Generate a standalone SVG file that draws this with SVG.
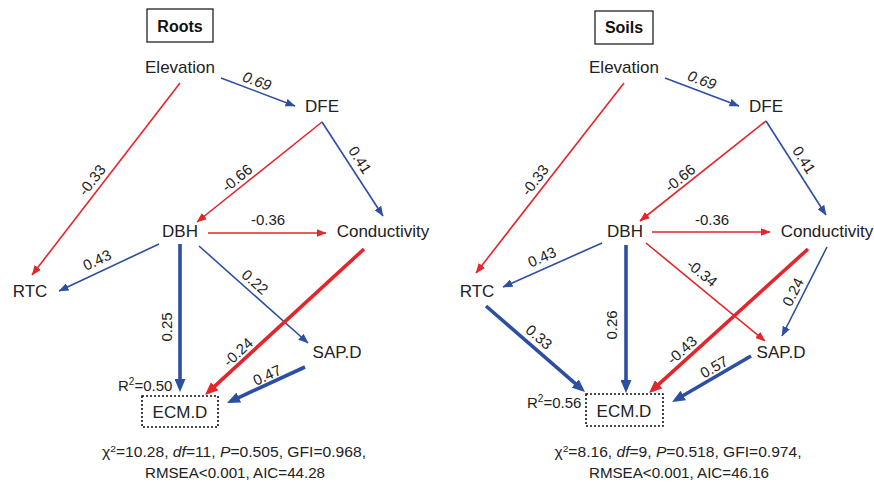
<svg xmlns="http://www.w3.org/2000/svg" width="874" height="484" viewBox="0 0 874 484">
<style>
.n{font-family:"Liberation Sans",Arial,sans-serif;font-size:17px;fill:#222;text-anchor:middle}
.l{font-family:"Liberation Sans",Arial,sans-serif;font-size:15px;fill:#222;text-anchor:middle}
.q{font-family:"Liberation Sans",Arial,sans-serif;font-size:15px;fill:#222}
.t{font-family:"Liberation Sans",Arial,sans-serif;font-size:16px;font-weight:bold;fill:#111;text-anchor:middle}
.s{font-family:"Liberation Sans",Arial,sans-serif;font-size:14.5px;fill:#222;text-anchor:middle}
.r{stroke:#e3262b;fill:none}
.b{stroke:#2c4ea3;fill:none}
.thin{stroke-width:1.6}
.thick{stroke-width:3.6}
.box{fill:#fff;stroke:#222;stroke-width:1.3}
.dot{fill:none;stroke:#111;stroke-width:1.6;stroke-dasharray:2 2}
</style>
<defs>
<marker id="ar" markerUnits="userSpaceOnUse" markerWidth="10" markerHeight="8" refX="9.5" refY="4" orient="auto"><path d="M0,0 L10,4 L0,8 z" fill="#e3262b"/></marker>
<marker id="ab" markerUnits="userSpaceOnUse" markerWidth="10" markerHeight="8" refX="9.5" refY="4" orient="auto"><path d="M0,0 L10,4 L0,8 z" fill="#2c4ea3"/></marker>
<marker id="aR" markerUnits="userSpaceOnUse" markerWidth="13" markerHeight="11" refX="9" refY="5.5" orient="auto"><path d="M0,0 L13,5.5 L0,11 z" fill="#e3262b"/></marker>
<marker id="aB" markerUnits="userSpaceOnUse" markerWidth="13" markerHeight="11" refX="9" refY="5.5" orient="auto"><path d="M0,0 L13,5.5 L0,11 z" fill="#2c4ea3"/></marker>
</defs>
<rect width="874" height="484" fill="#fff"/>

<!-- LEFT PANEL: Roots -->
<g id="roots-title"><rect class="box" x="147" y="9" width="66" height="33"/><text class="t" x="180" y="31.5">Roots</text></g>
<g id="connectors-roots">
<line class="b thin" x1="221" y1="78" x2="295" y2="106" marker-end="url(#ab)"/>
<line class="r thin" x1="322" y1="122" x2="197" y2="222" marker-end="url(#ar)"/>
<line class="b thin" x1="322" y1="122" x2="383" y2="216" marker-end="url(#ab)"/>
<line class="r thin" x1="180" y1="83" x2="32" y2="275" marker-end="url(#ar)"/>
<line class="r thin" x1="208" y1="233" x2="326" y2="233" marker-end="url(#ar)"/>
<line class="b thin" x1="159" y1="244" x2="59" y2="291" marker-end="url(#ab)"/>
<line class="b thin" x1="199" y1="246" x2="308" y2="343" marker-end="url(#ab)"/>
<line class="b thick" x1="180" y1="244" x2="180" y2="388" marker-end="url(#aB)"/>
<line class="r thick" x1="364" y1="249" x2="208" y2="392.3" marker-end="url(#aR)"/>
<line class="b thick" x1="305" y1="367" x2="230.6" y2="401.3" marker-end="url(#aB)"/>
<text class="l" transform="translate(257,81) rotate(20.7)" dy="0.35em" font-style="italic">0.69</text>
<text class="l" transform="translate(237,178) rotate(-38.7)" dy="0.35em">-0.66</text>
<text class="l" transform="translate(360,160) rotate(57)" dy="0.35em">0.41</text>
<text class="l" transform="translate(92,180) rotate(-52.4)" dy="0.35em">-0.33</text>
<text class="l" x="268" y="225">-0.36</text>
<text class="l" transform="translate(97,260) rotate(-25)" dy="0.35em">0.43</text>
<text class="l" transform="translate(167,327) rotate(-90)" dy="0.35em">0.25</text>
<text class="l" transform="translate(255,282) rotate(41.7)" dy="0.35em">0.22</text>
<text class="l" transform="translate(238,352) rotate(-42.6)" dy="0.35em">-0.24</text>
<text class="l" transform="translate(267,375) rotate(-24.8)" dy="0.35em">0.47</text>
</g>
<g id="roots-elevation"><text class="n" x="180" y="73">Elevation</text></g>
<g id="roots-dfe"><text class="n" x="322" y="112">DFE</text></g>
<g id="roots-dbh"><text class="n" x="180" y="237">DBH</text></g>
<g id="roots-conductivity"><text class="n" x="383" y="237">Conductivity</text></g>
<g id="roots-rtc"><text class="n" x="30" y="297">RTC</text></g>
<g id="roots-sapd"><text class="n" x="337" y="358">SAP.D</text></g>
<g id="roots-ecmd"><rect class="dot" x="142" y="396" width="76" height="31"/><text class="n" x="180" y="418">ECM.D</text>
<text class="q" x="118" y="391">R<tspan font-size="10" dy="-6">2</tspan><tspan dy="6">=0.50</tspan></text></g>
<g id="roots-stats">
<text class="s" x="234" y="457" textLength="264" lengthAdjust="spacingAndGlyphs">χ<tspan font-size="9.5" dy="-5">2</tspan><tspan dy="5">=10.28, </tspan><tspan font-style="italic">df</tspan>=11, <tspan font-style="italic">P</tspan>=0.505, GFI=0.968,</text>
<text class="s" x="235" y="478" textLength="180" lengthAdjust="spacingAndGlyphs">RMSEA&lt;0.001, AIC=44.28</text>
</g>

<!-- RIGHT PANEL: Soils -->
<g id="soils-title"><rect class="box" x="595" y="11" width="58" height="33"/><text class="t" x="624" y="33">Soils</text></g>
<g id="connectors-soils">
<line class="b thin" x1="665" y1="78" x2="739" y2="106" marker-end="url(#ab)"/>
<line class="r thin" x1="766" y1="121" x2="640" y2="221" marker-end="url(#ar)"/>
<line class="b thin" x1="766" y1="121" x2="826" y2="215" marker-end="url(#ab)"/>
<line class="r thin" x1="624" y1="83" x2="476" y2="273" marker-end="url(#ar)"/>
<line class="r thin" x1="652" y1="232" x2="770" y2="232" marker-end="url(#ar)"/>
<line class="b thin" x1="602" y1="243" x2="503" y2="287" marker-end="url(#ab)"/>
<line class="r thin" x1="646" y1="243" x2="765" y2="341" marker-end="url(#ar)"/>
<line class="b thin" x1="827" y1="247" x2="782" y2="336" marker-end="url(#ab)"/>
<line class="b thick" x1="486" y1="306" x2="582" y2="389.4" marker-end="url(#aB)"/>
<line class="b thick" x1="626" y1="245" x2="626" y2="389" marker-end="url(#aB)"/>
<line class="r thick" x1="808" y1="249" x2="652" y2="390.3" marker-end="url(#aR)"/>
<line class="b thick" x1="751" y1="356" x2="675.5" y2="400" marker-end="url(#aB)"/>
<text class="l" transform="translate(702,80) rotate(20.7)" dy="0.35em" font-style="italic">0.69</text>
<text class="l" transform="translate(680,178) rotate(-38.7)" dy="0.35em">-0.66</text>
<text class="l" transform="translate(804,160) rotate(57)" dy="0.35em">0.41</text>
<text class="l" transform="translate(535,180) rotate(-52.4)" dy="0.35em">-0.33</text>
<text class="l" x="712" y="225">-0.36</text>
<text class="l" transform="translate(542,257) rotate(-24)" dy="0.35em">0.43</text>
<text class="l" transform="translate(539,337) rotate(41)" dy="0.35em">0.33</text>
<text class="l" transform="translate(612,325) rotate(-90)" dy="0.35em">0.26</text>
<text class="l" transform="translate(702,273) rotate(39.5)" dy="0.35em">-0.34</text>
<text class="l" transform="translate(682,350) rotate(-42)" dy="0.35em">-0.43</text>
<text class="l" transform="translate(793,292) rotate(-63)" dy="0.35em">0.24</text>
<text class="l" transform="translate(714,367) rotate(-30)" dy="0.35em">0.57</text>
</g>
<g id="soils-elevation"><text class="n" x="624" y="73">Elevation</text></g>
<g id="soils-dfe"><text class="n" x="766" y="112">DFE</text></g>
<g id="soils-dbh"><text class="n" x="625" y="237">DBH</text></g>
<g id="soils-conductivity"><text class="n" x="827" y="237">Conductivity</text></g>
<g id="soils-rtc"><text class="n" x="477" y="297">RTC</text></g>
<g id="soils-sapd"><text class="n" x="781" y="358">SAP.D</text></g>
<g id="soils-ecmd"><rect class="dot" x="586" y="394" width="77" height="32"/><text class="n" x="624" y="417">ECM.D</text>
<text class="q" x="527" y="408">R<tspan font-size="10" dy="-6">2</tspan><tspan dy="6">=0.56</tspan></text></g>
<g id="soils-stats">
<text class="s" x="678" y="457" textLength="247" lengthAdjust="spacingAndGlyphs">χ<tspan font-size="9.5" dy="-5">2</tspan><tspan dy="5">=8.16, </tspan><tspan font-style="italic">df</tspan>=9, <tspan font-style="italic">P</tspan>=0.518, GFI=0.974,</text>
<text class="s" x="679" y="478" textLength="180" lengthAdjust="spacingAndGlyphs">RMSEA&lt;0.001, AIC=46.16</text>
</g>
</svg>
